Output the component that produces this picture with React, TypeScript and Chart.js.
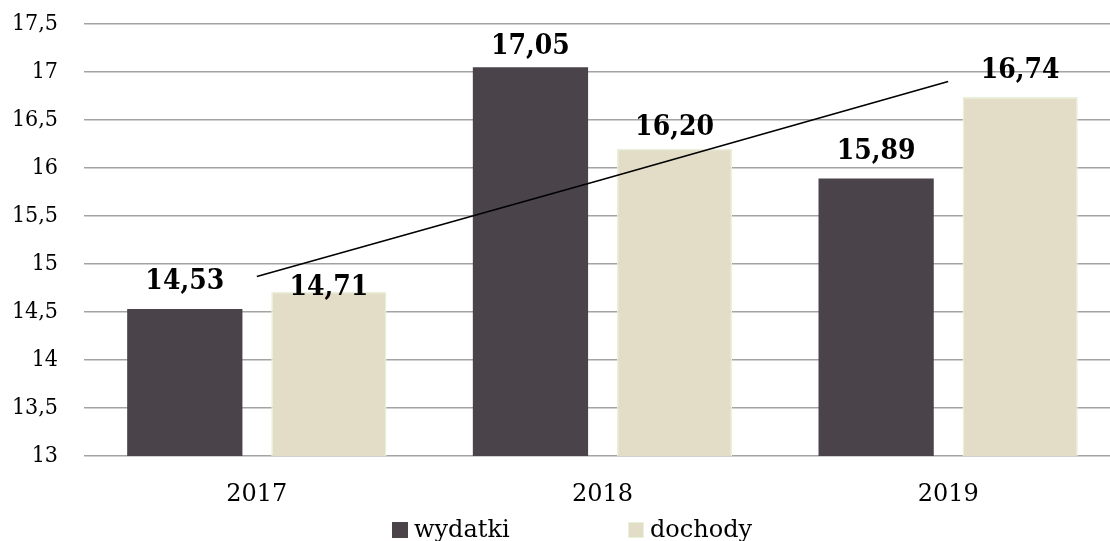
import React, { useEffect, useRef } from "react";
import { Chart, registerables } from "chart.js";

Chart.register(...registerables);

const YEARS = ["2017", "2018", "2019"];
const WYDATKI = [14.53, 17.05, 15.89];
const DOCHODY = [14.71, 16.2, 16.74];
const TREND = [14.87, 15.88, 16.9];
const SERIES_NAMES = ["wydatki", "dochody"];
const Y_MIN = 13;
const Y_MAX = 17.5;
const Y_STEP = 0.5;

const DARK = "#4a434a";
const BEIGE = "#e3dcc6";
const BEIGE_EDGE = "#e9f0d9";

// extra lift (px) for each value label, per series (style only)
const LABEL_LIFT = [
  [6.5, 0, 6.5],
  [-17, 0, 5.5],
];

const fmt = (v: number, d: number) => v.toFixed(d).replace(".", ",");

const valueLabels = {
  id: "valueLabels",
  afterDatasetsDraw(chart: any) {
    const ctx = chart.ctx;
    ctx.save();
    ctx.font = "bold 28px 'DejaVu Serif Condensed', 'DejaVu Serif', serif";
    ctx.fillStyle = "#000";
    ctx.textAlign = "center";
    ctx.textBaseline = "alphabetic";
    chart.data.datasets.forEach((ds: any, di: number) => {
      if (ds.type === "line") return;
      const meta = chart.getDatasetMeta(di);
      meta.data.forEach((el: any, i: number) => {
        const lift = 13.5 + (LABEL_LIFT[di]?.[i] ?? 0);
        ctx.fillText(fmt(ds.data[i], 2), el.x, el.y - lift);
      });
    });
    ctx.restore();
  },
};

const bottomLegend = {
  id: "bottomLegend",
  afterDraw(chart: any) {
    const ctx = chart.ctx;
    ctx.save();
    ctx.font = "24px 'DejaVu Serif', serif";
    ctx.textBaseline = "alphabetic";
    ctx.textAlign = "left";
    const left = 392;
    const gap = 236;
    const baseY = 537;
    chart.data.datasets.forEach((ds: any, di: number) => {
      if (ds.type === "line") return;
      const x = left + di * gap;
      ctx.fillStyle = ds.backgroundColor;
      ctx.fillRect(x, baseY - 15, 16, 16);
      if (di === 1) {
        ctx.strokeStyle = BEIGE_EDGE;
        ctx.lineWidth = 1;
        ctx.strokeRect(x + 0.5, baseY - 14.5, 15, 15);
      }
      ctx.fillStyle = "#000";
      ctx.fillText(ds.label, x + 22, baseY);
    });
    ctx.restore();
  },
};

export default function App() {
  const ref = useRef<HTMLCanvasElement | null>(null);

  useEffect(() => {
    if (!ref.current) return;
    const chart = new Chart(ref.current, {
      type: "bar",
      data: {
        labels: YEARS,
        datasets: [
          {
            type: "bar",
            label: SERIES_NAMES[0],
            data: WYDATKI,
            backgroundColor: DARK,
            borderWidth: 0,
            categoryPercentage: 0.8336,
            barPercentage: 0.8,
            order: 1,
          },
          {
            type: "bar",
            label: SERIES_NAMES[1],
            data: DOCHODY,
            backgroundColor: BEIGE,
            borderColor: BEIGE_EDGE,
            borderWidth: 1.5,
            categoryPercentage: 0.8336,
            barPercentage: 0.8,
            order: 1,
          },
          {
            type: "line",
            label: "trend",
            data: TREND,
            borderColor: "#000",
            borderWidth: 1.6,
            pointRadius: 0,
            fill: false,
            order: 0,
          } as any,
        ],
      },
      options: {
        responsive: false,
        animation: false,
        devicePixelRatio: 1,
        layout: { padding: { top: 24, right: 0, bottom: 0, left: 0 } },
        plugins: {
          legend: { display: false },
          tooltip: { enabled: false },
        },
        scales: {
          x: {
            grid: { display: false },
            border: { display: false },
            ticks: {
              color: "#000",
              font: { family: "'DejaVu Serif', serif", size: 24 },
              padding: 16,
            },
            afterFit: (s: any) => {
              s.height = 85;
            },
          },
          y: {
            min: Y_MIN,
            max: Y_MAX,
            border: { display: false },
            grid: { color: "#a3a3a3", lineWidth: 1.4, drawTicks: false },
            ticks: {
              stepSize: Y_STEP,
              color: "#000",
              font: { family: "'DejaVu Serif Condensed', 'DejaVu Serif', serif", size: 23 },
              padding: 26,
              callback: (v: any) => {
                const n = Number(v);
                return Number.isInteger(n) ? String(n) : fmt(n, 1);
              },
            },
            afterFit: (s: any) => {
              s.width = 84;
              s.paddingTop = 0;
              s.paddingBottom = 0;
            },
          },
        },
      },
      plugins: [valueLabels, bottomLegend],
    });
    return () => chart.destroy();
  }, []);

  return (
    <div
      style={{
        position: "absolute",
        left: 0,
        top: 0,
        width: 1110,
        height: 541,
        overflow: "hidden",
        background: "#fff",
      }}
    >
      <canvas ref={ref} width={1121} height={541} style={{ display: "block" }} />
    </div>
  );
}
